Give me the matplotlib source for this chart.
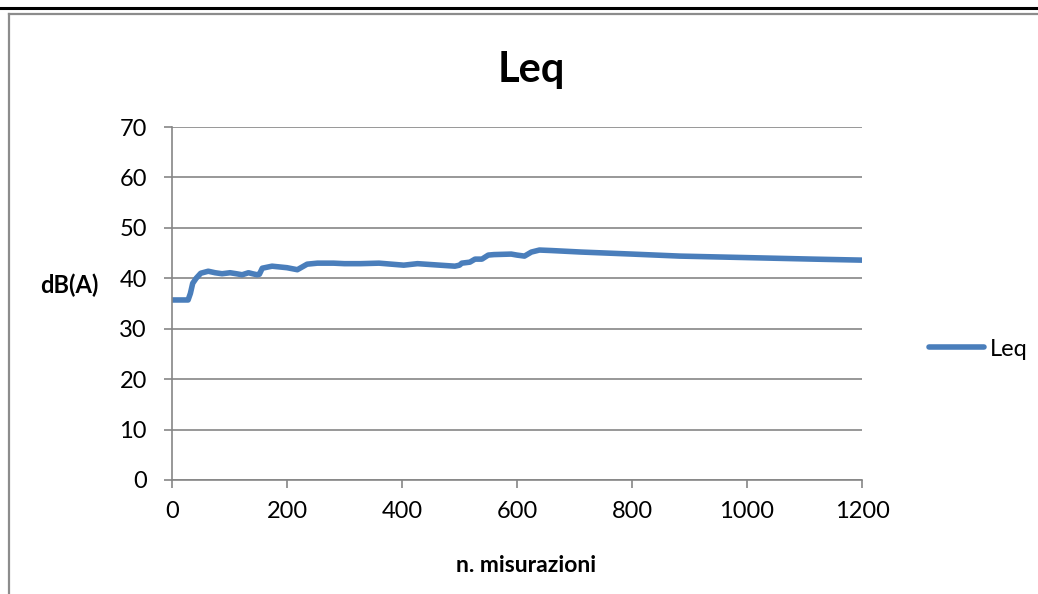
import matplotlib.pyplot as plt
from matplotlib.lines import Line2D

# dati
n_mis = [0, 28, 32, 36, 42, 50, 63, 75, 87, 101, 112, 122, 133, 140, 148, 152,
         157, 174, 200, 218, 235, 253, 281, 300, 328, 360, 403, 427, 466, 492,
         500, 504, 518, 527, 539, 550, 560, 590, 600, 613, 625, 639, 660, 712,
         800, 883, 1000, 1115, 1200]
leq = [35.7, 35.7, 37.0, 39.0, 40.0, 41.0, 41.4, 41.1, 40.9, 41.1, 40.9, 40.7,
       41.1, 40.9, 40.7, 40.8, 42.0, 42.4, 42.1, 41.7, 42.8, 43.0, 43.0, 42.9,
       42.9, 43.0, 42.6, 42.9, 42.6, 42.4, 42.6, 43.0, 43.2, 43.8, 43.8, 44.6,
       44.7, 44.8, 44.6, 44.4, 45.2, 45.6, 45.5, 45.2, 44.8, 44.4, 44.1, 43.8,
       43.6]
xticks = [0, 200, 400, 600, 800, 1000, 1200]
yticks = [0, 10, 20, 30, 40, 50, 60, 70]

plt.rcParams['font.family'] = ['Lato', 'DejaVu Sans']
W, H = 1038, 594
fig = plt.figure(figsize=(W / 100, H / 100), dpi=100)

# bordi del foglio
fig.add_artist(Line2D([0, 1037 / W], [1 - 7.5 / H, 1 - 7.5 / H], color='black', lw=2.2))
fig.add_artist(Line2D([9 / W, 1], [1 - 14 / H, 1 - 14 / H], color='#8c8c8c', lw=1.6))
fig.add_artist(Line2D([9 / W, 9 / W], [0, 1 - 14 / H], color='#8c8c8c', lw=1.6))

ax = fig.add_axes([172 / W, (H - 480) / H, 690 / W, 353 / H])
grigio = '#868686'
ax.plot(n_mis, leq, color='#4a7ebb', lw=4.0, solid_capstyle='round',
        solid_joinstyle='round', label='Leq')
ax.set_xlim(0, 1200)
ax.set_ylim(0, 70)
ax.set_xticks(xticks)
ax.set_yticks(yticks)
ax.grid(axis='y', color=grigio, lw=1.2)
ax.set_axisbelow(True)
for s in ['top', 'right']:
    ax.spines[s].set_visible(False)
for s in ['left', 'bottom']:
    ax.spines[s].set_color(grigio)
    ax.spines[s].set_linewidth(1.2)
ax.tick_params(axis='both', colors=grigio, labelcolor='black', labelsize=17,
               length=6, width=1.2)
ax.tick_params(axis='x', pad=9)
ax.tick_params(axis='y', pad=12)

fig.text(531 / W, 1 - 70 / H, 'Leq', ha='center', va='center',
         fontsize=30, fontweight='bold')
fig.text(69 / W, 1 - 285 / H, 'dB(A)', ha='center', va='center',
         fontsize=17, fontweight='bold')
fig.text(526 / W, 1 - 566 / H, 'n. misurazioni', ha='center', va='center',
         fontsize=16.5, fontweight='bold')

leg = fig.legend(loc='center left', bbox_to_anchor=(920 / W, 1 - 349 / H),
                 frameon=False, fontsize=17, handlelength=2.3,
                 handletextpad=0.25, borderaxespad=0)

fig.savefig('out.png', dpi=100)
